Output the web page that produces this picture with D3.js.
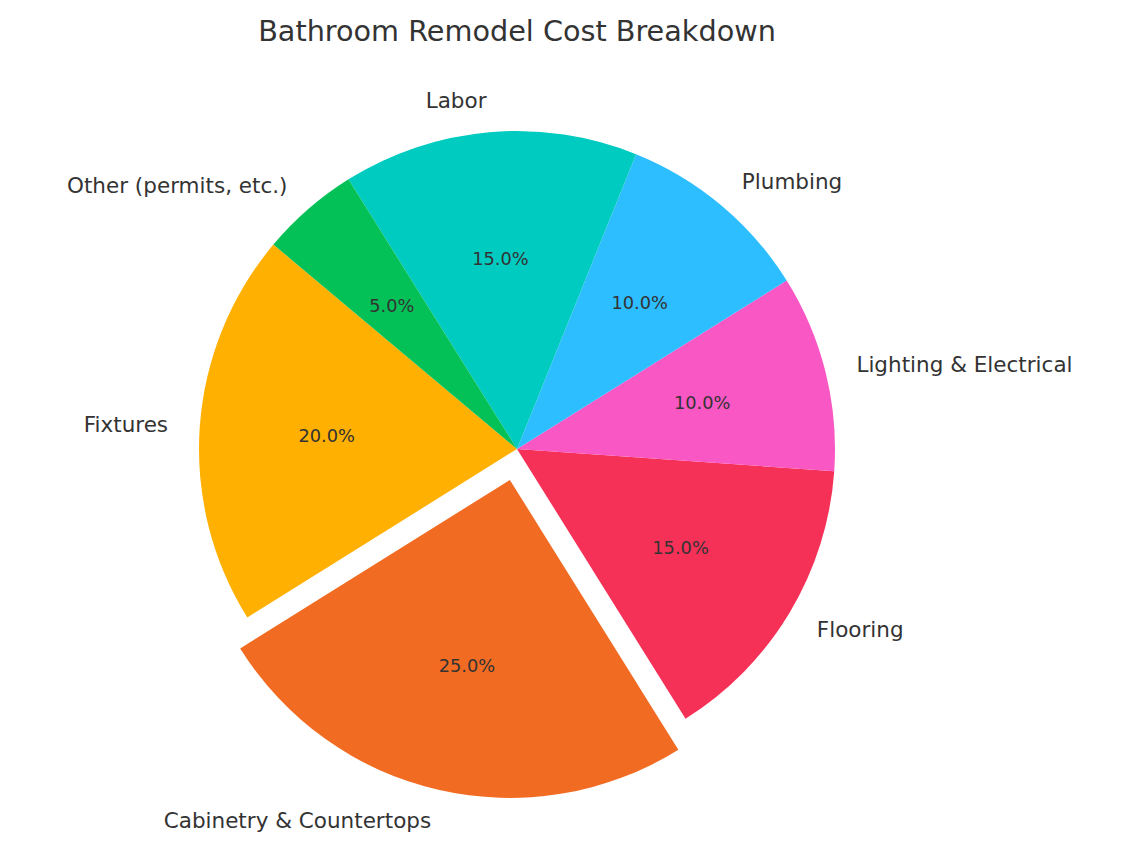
<!DOCTYPE html>
<html>
<head>
<meta charset="utf-8">
<script src="https://cdn.jsdelivr.net/npm/d3@7"></script>
<style>
  body { margin: 0; background: #fff; }
  text { font-family: "DejaVu Sans", sans-serif; fill: #333; }
</style>
</head>
<body>
<svg id="chart"></svg>
<script>
// Chart data (counterclockwise from the start angle, like the original)
const categories = ["Fixtures", "Cabinetry & Countertops", "Flooring", "Lighting & Electrical", "Plumbing", "Labor", "Other (permits, etc.)"];
const shares = [20, 25, 15, 10, 10, 15, 5];
const colors = ["#FFB000", "#F26B22", "#F63157", "#F957C4", "#2DBEFF", "#00CBC1", "#04C157"];
const explode = [0, 0.1, 0, 0, 0, 0, 0];

const width = 1132, height = 842;
const cx = 517, cy = 449, radius = 318;

const svg = d3.select("#chart")
    .attr("width", width)
    .attr("height", height);

svg.append("text")
    .attr("x", cx)
    .attr("y", 41)
    .attr("text-anchor", "middle")
    .style("font-size", "28.7px")
    .text("Bathroom Remodel Cost Breakdown");

const data = categories.map((c, i) => ({ category: c, value: shares[i], color: colors[i], explode: explode[i] }));

// start at 140 deg (math angle), go counterclockwise
const start = (90 - 140) * Math.PI / 180;
const pie = d3.pie()
    .sort(null)
    .value(d => d.value)
    .startAngle(start)
    .endAngle(start - 2 * Math.PI);

const arc = d3.arc().innerRadius(0).outerRadius(radius);

const g = svg.append("g").attr("transform", `translate(${cx},${cy})`);

const slices = g.selectAll(".slice")
    .data(pie(data))
    .enter().append("g")
    .attr("class", "slice")
    .attr("transform", d => {
        const a = (d.startAngle + d.endAngle) / 2;
        const off = d.data.explode * radius;
        return `translate(${Math.sin(a) * off},${-Math.cos(a) * off})`;
    });

slices.append("path")
    .attr("d", arc)
    .attr("fill", d => d.data.color);

// category labels at 1.1 r
slices.append("text")
    .attr("x", d => Math.sin((d.startAngle + d.endAngle) / 2) * radius * 1.1)
    .attr("y", d => -Math.cos((d.startAngle + d.endAngle) / 2) * radius * 1.1)
    .attr("text-anchor", d => Math.sin((d.startAngle + d.endAngle) / 2) > 0 ? "start" : "end")
    .attr("dominant-baseline", "central")
    .style("font-size", "21.5px")
    .text(d => d.data.category);

// percentage labels at 0.6 r
const total = d3.sum(shares);
slices.append("text")
    .attr("x", d => Math.sin((d.startAngle + d.endAngle) / 2) * radius * 0.6)
    .attr("y", d => -Math.cos((d.startAngle + d.endAngle) / 2) * radius * 0.6)
    .attr("text-anchor", "middle")
    .attr("dominant-baseline", "central")
    .style("font-size", "17.8px")
    .text(d => (d.data.value / total * 100).toFixed(1) + "%");
</script>
</body>
</html>
